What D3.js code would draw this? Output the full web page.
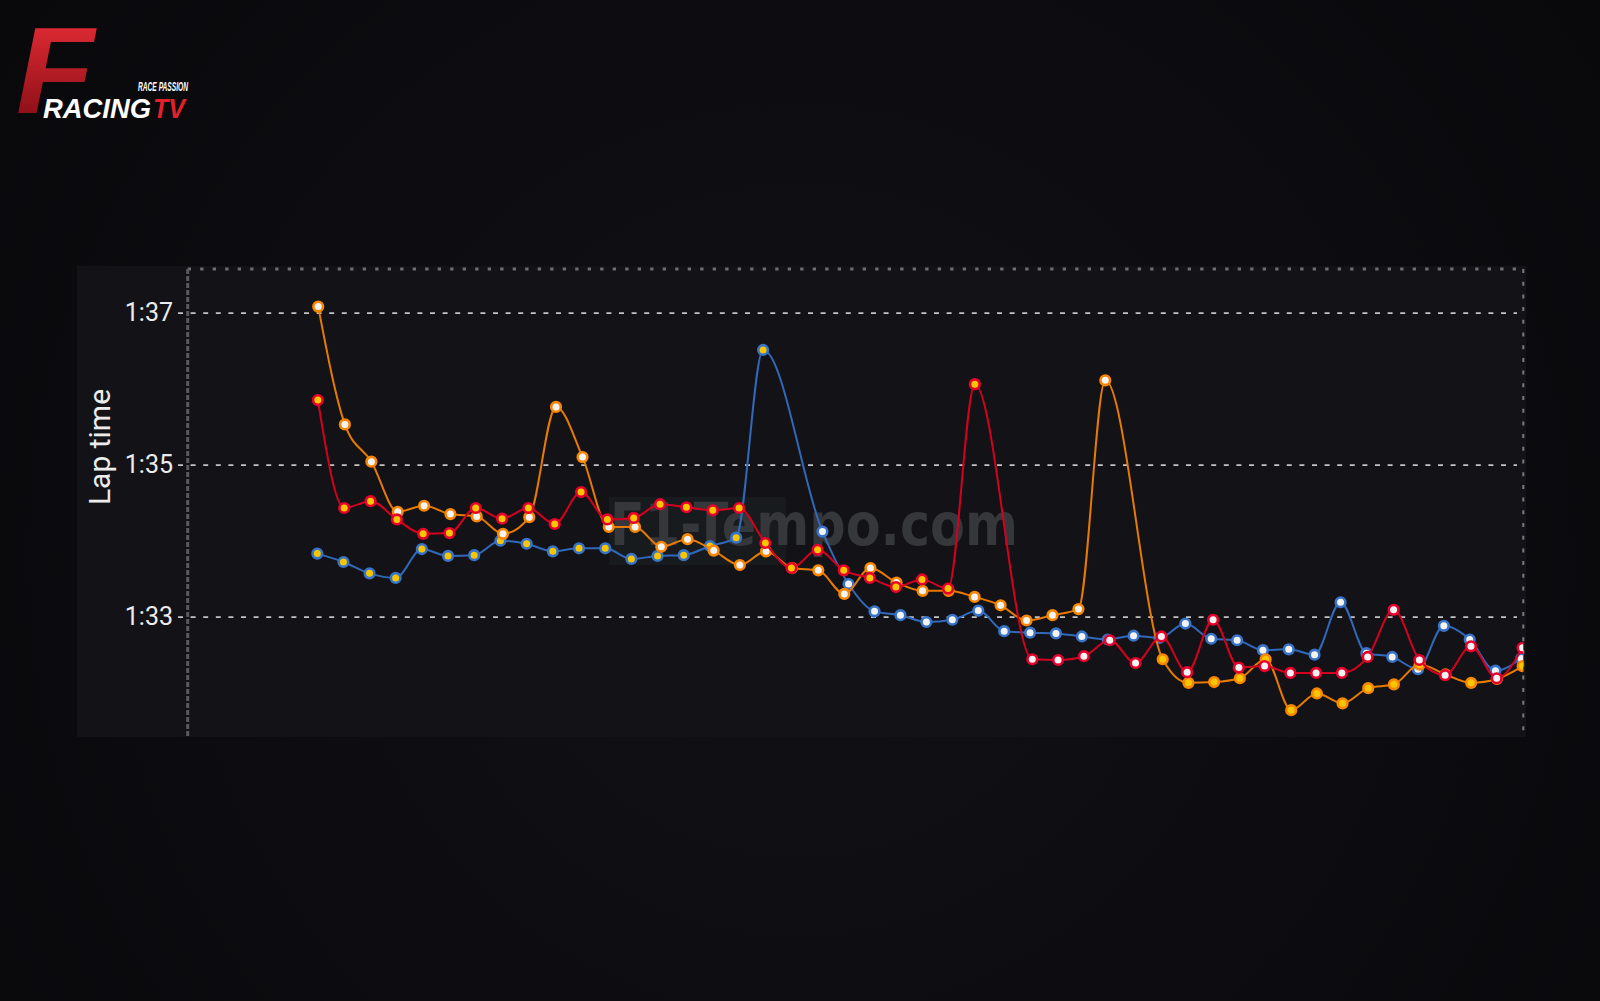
<!DOCTYPE html>
<html><head><meta charset="utf-8">
<script src="https://cdn.jsdelivr.net/npm/d3@7"></script>
<style>
html,body{margin:0;padding:0;background:#0b0b0e;overflow:hidden}
svg{display:block}
</style></head><body>
<svg id="chart" width="1600" height="1001"></svg>
<script>
// ---------- DATA ----------
const yTicks = [93, 95, 97];
const yTickLabels = ["1:33", "1:35", "1:37"];
const seriesNames = ["Blue car", "Orange car", "Red car"];

// lap times in seconds (pit out-laps included; they are not plotted)
const blueLapTimes = [93.83, 93.72, 93.57, 93.51, 93.89, 93.80, 93.81, 94.00, 93.96, 93.86, 93.90, 93.90, 93.76, 93.80, 93.81, 93.93, 94.04, 96.51, 118.7,
  94.12, 93.43, 93.07, 93.02, 92.93, 92.96, 93.08, 92.81, 92.79, 92.78, 92.74, 92.70, 92.75, 92.72, 92.91, 92.71, 92.69, 92.56, 92.57, 92.50, 93.19, 92.52, 92.47, 92.31, 92.88, 92.70, 92.29, 92.45];
const redLapTimes = [95.85, 94.43, 94.52, 94.28, 94.09, 94.10, 94.43, 94.29, 94.43, 94.22, 94.64, 94.28, 94.30, 94.48, 94.44, 94.40, 94.43, 93.97, 93.64, 93.88, 93.61, 93.51, 93.39, 93.49, 93.37, 96.06, 113.5,
  92.44, 92.43, 92.48, 92.69, 92.39, 92.74, 92.27, 92.96, 92.33, 92.35, 92.26, 92.26, 92.26, 92.47, 93.09, 92.43, 92.23, 92.61, 92.19, 92.59];
const orangeLapTimes = [97.08, 95.53, 95.04, 94.38, 94.46, 94.35, 94.32, 94.09, 94.31, 95.76, 95.10, 94.18, 94.18, 93.92, 94.02, 93.87, 93.68, 93.86, 93.64, 93.61, 93.30, 93.64, 93.45, 93.34, 93.34, 93.26, 93.15, 92.95, 93.02, 93.10, 96.11, 113.4,
  92.44, 92.13, 92.14, 92.19, 92.44, 91.77, 91.99, 91.86, 92.06, 92.11, 92.37, 92.24, 92.13, 92.18, 92.35];

// tyre stints: [compound, number of laps]
const blueStints = [["MEDIUM", 18], ["HARD", 29]];
const redStints = [["MEDIUM", 26], ["HARD", 21]];
const orangeStints = [["HARD", 31], ["MEDIUM", 16]];

const raceTimeBeforeFirstLap = 370.7;   // s
const raceTimeDomain = [0, 4787];       // s
const lapTimeDomain = [91.417, 97.575]; // s
const outLapThreshold = 100;            // s

// ---------- STYLE ----------
const seriesColors = {"Blue car": "#3873C8", "Red car": "#E8002D", "Orange car": "#F98600"};
const lineColors = {"Blue car": "#3068bb", "Red car": "#d4001f", "Orange car": "#e87a00"};
const compoundFill = {MEDIUM: "#F8C600", HARD: "#F3F3F3"};

const W = 1600, H = 1001;
const plot = {left: 187.7, right: 1523.3, top: 269, bottom: 737};

const svg = d3.select("#chart");
const defs = svg.append("defs");

// background
const bg = defs.append("radialGradient").attr("id", "bgGrad")
  .attr("cx", 800).attr("cy", 560).attr("r", 950).attr("gradientUnits", "userSpaceOnUse");
bg.append("stop").attr("offset", "0").attr("stop-color", "#121216");
bg.append("stop").attr("offset", "1").attr("stop-color", "#09090c");
svg.append("rect").attr("width", W).attr("height", H).attr("fill", "url(#bgGrad)");

// panel
svg.append("rect").attr("x", 77).attr("y", 266).attr("width", 1526 - 77).attr("height", 737 - 266)
  .attr("fill", "#131317");

// ---------- LOGO ----------
const fGrad = defs.append("linearGradient").attr("id", "fGrad").attr("x1", 0).attr("y1", 0).attr("x2", 0).attr("y2", 1);
fGrad.append("stop").attr("offset", "0").attr("stop-color", "#f0303a");
fGrad.append("stop").attr("offset", "1").attr("stop-color", "#7a0910");
const logo = svg.append("g");
logo.append("text").attr("x", 16).attr("y", 113)
  .attr("font-family", "Liberation Sans, Arial, sans-serif").attr("font-weight", 700).attr("font-style", "italic")
  .attr("font-size", 122).attr("textLength", 78).attr("lengthAdjust", "spacingAndGlyphs")
  .attr("fill", "url(#fGrad)").text("F");
logo.append("text").attr("x", 43).attr("y", 118)
  .attr("font-family", "Liberation Sans, Arial, sans-serif").attr("font-weight", 700).attr("font-style", "italic")
  .attr("font-size", 28).attr("textLength", 108).attr("lengthAdjust", "spacingAndGlyphs")
  .attr("fill", "#ffffff").text("RACING");
logo.append("text").attr("x", 153).attr("y", 118)
  .attr("font-family", "Liberation Sans, Arial, sans-serif").attr("font-weight", 700).attr("font-style", "italic")
  .attr("font-size", 28).attr("textLength", 32).attr("lengthAdjust", "spacingAndGlyphs")
  .attr("fill", "#e3202b").text("TV");
logo.append("text").attr("x", 138).attr("y", 91)
  .attr("font-family", "Liberation Sans, Arial, sans-serif").attr("font-weight", 700).attr("font-style", "italic")
  .attr("font-size", 12).attr("textLength", 50).attr("lengthAdjust", "spacingAndGlyphs")
  .attr("fill", "#ffffff").text("RACE PASSION");

// ---------- SCALES ----------
const x = d3.scaleLinear().domain(raceTimeDomain).range([plot.left, plot.right]);
const y = d3.scaleLinear().domain(lapTimeDomain).range([plot.bottom, plot.top]);

// ---------- AXES / GRID ----------
const gridStart = 178;
const yAxis = d3.axisLeft(y).tickValues(yTicks)
  .tickFormat((d, i) => yTickLabels[i])
  .tickSize(-(1517 - gridStart)).tickPadding(5);
const gAxis = svg.append("g").attr("transform", `translate(${gridStart},0)`).call(yAxis);
gAxis.select(".domain").remove();
gAxis.selectAll(".tick line").attr("stroke", "#c4c4c4").attr("stroke-width", 1.8)
  .attr("stroke-dasharray", "5,7.6");
gAxis.selectAll(".tick text").attr("fill", "#ececec")
  .attr("font-family", "Roboto, sans-serif").attr("font-size", 25);

// top dotted border
svg.append("line").attr("x1", plot.left).attr("x2", plot.right).attr("y1", plot.top).attr("y2", plot.top)
  .attr("stroke", "#6f6f72").attr("stroke-width", 2.8).attr("stroke-dasharray", "3.3,9.2");
// right dotted border
svg.append("line").attr("x1", plot.right).attr("x2", plot.right).attr("y1", plot.top).attr("y2", plot.bottom)
  .attr("stroke", "#7a7a7d").attr("stroke-width", 2).attr("stroke-dasharray", "4,8.7");
// left axis line
svg.append("line").attr("x1", plot.left).attr("x2", plot.left).attr("y1", plot.top).attr("y2", plot.bottom)
  .attr("stroke", "#5a5a5d").attr("stroke-width", 3).attr("stroke-dasharray", "5,2");

// axis title
svg.append("text").attr("transform", `translate(110,447) rotate(-90)`)
  .attr("text-anchor", "middle").attr("fill", "#ececec")
  .attr("font-family", "Roboto, sans-serif").attr("font-size", 30).text("Lap time");

// ---------- WATERMARK ----------
svg.append("rect").attr("x", 609).attr("y", 497).attr("width", 177).attr("height", 68).attr("fill", "#171b1e");
svg.append("text").attr("x", 610).attr("y", 545)
  .attr("font-family", "DejaVu Sans, sans-serif").attr("font-size", 58).attr("font-weight", 700)
  .attr("textLength", 408).attr("lengthAdjust", "spacingAndGlyphs")
  .attr("fill", "#36373b").text("F1-Tempo.com");

// ---------- SERIES ----------
defs.append("clipPath").attr("id", "plotClip").append("rect")
  .attr("x", plot.left).attr("y", plot.top - 10).attr("width", plot.right - plot.left).attr("height", plot.bottom - plot.top + 10);

function buildSeries(name, lapTimes, stints) {
  const compounds = stints.flatMap(([c, n]) => Array(n).fill(c));
  let t = raceTimeBeforeFirstLap;
  const pts = lapTimes.map((lt, i) => { t += lt; return {lap: i + 1, time: t, lapTime: lt, compound: compounds[i]}; });
  return {name, points: pts.filter(p => p.lapTime < outLapThreshold)};
}
const allSeries = [
  buildSeries("Blue car", blueLapTimes, blueStints),
  buildSeries("Orange car", orangeLapTimes, orangeStints),
  buildSeries("Red car", redLapTimes, redStints)
];

const line = d3.line().x(d => x(d.time)).y(d => y(d.lapTime)).curve(d3.curveMonotoneX);
const gSeries = svg.append("g").attr("clip-path", "url(#plotClip)");
allSeries.forEach(s => {
  const g = gSeries.append("g");
  g.append("path").datum(s.points).attr("d", line).attr("fill", "none")
    .attr("stroke", lineColors[s.name]).attr("stroke-width", 2);
  g.selectAll("circle").data(s.points).join("circle")
    .attr("cx", d => x(d.time)).attr("cy", d => y(d.lapTime)).attr("r", 4.8)
    .attr("fill", d => compoundFill[d.compound])
    .attr("stroke", seriesColors[s.name]).attr("stroke-width", 2.6);
});
</script>
</body></html>
